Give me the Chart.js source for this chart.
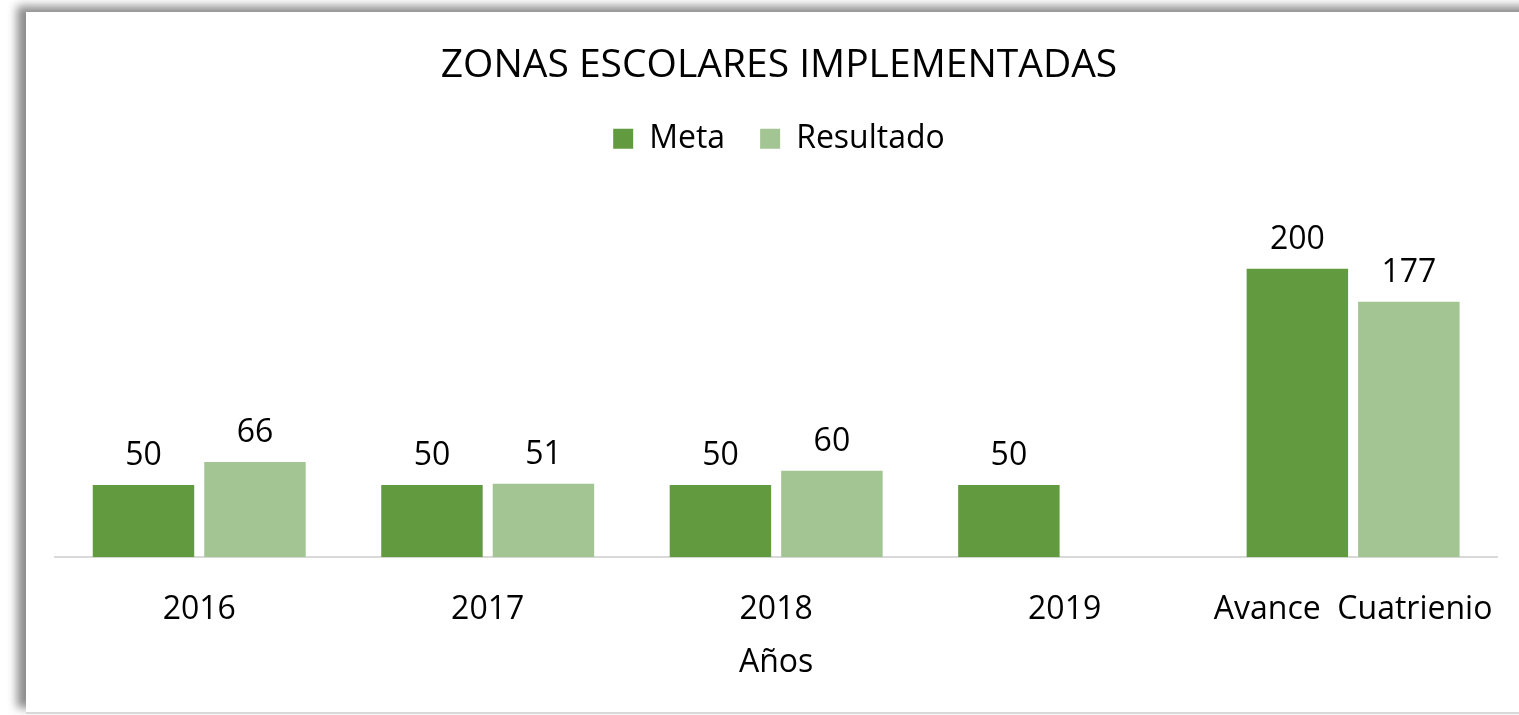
<!DOCTYPE html>
<html>
<head>
<meta charset="utf-8">
<script src="https://cdn.jsdelivr.net/npm/chart.js@4"></script>
<style>
  body { margin: 0; background: #fff; overflow: hidden; }
  .marco { position: absolute; left: 26px; top: 12px; width: 1520px; height: 700px; background: #fff;
           box-shadow: -9px -6px 9px rgba(0,0,0,0.45); border-bottom: 2px solid #d9d9d9; }
  #grafico { position: absolute; left: 0; top: 0; }
</style>
</head>
<body>
<div class="marco"></div>
<canvas id="grafico" width="1519" height="715"></canvas>
<script>
var categorias = ['2016', '2017', '2018', '2019', 'Avance  Cuatrienio'];
var meta = [50, 50, 50, 50, 200];
var resultado = [66, 51, 60, null, 177];

var fuente = "'Open Sans', 'Noto Sans', sans-serif";

// etiquetas de valor encima de cada barra
var etiquetas = {
    id: 'etiquetas',
    afterDatasetsDraw: function(chart) {
        var ctx = chart.ctx;
        ctx.save();
        ctx.font = '32px ' + fuente;
        ctx.fillStyle = '#000';
        ctx.textAlign = 'center';
        ctx.textBaseline = 'alphabetic';
        chart.data.datasets.forEach(function(ds, i) {
            chart.getDatasetMeta(i).data.forEach(function(barra, j) {
                if (ds.data[j] == null) return;
                ctx.fillText(ds.data[j], barra.x, barra.y - 20);
            });
        });
        ctx.restore();
    }
};

var ctx = document.getElementById('grafico').getContext('2d');
var miGrafico = new Chart(ctx, {
    type: 'bar',
    data: {
        labels: categorias,
        datasets: [{
            label: 'Meta',
            data: meta,
            backgroundColor: '#629b3f',
            categoryPercentage: 0.773,
            barPercentage: 0.91
        }, {
            label: 'Resultado',
            data: resultado,
            backgroundColor: '#a3c593',
            categoryPercentage: 0.773,
            barPercentage: 0.91
        }]
    },
    options: {
        responsive: false,
        animation: false,
        layout: { padding: { left: 55, right: 16, top: 42, bottom: 33 } },
        plugins: {
            title: {
                display: true,
                text: 'ZONAS ESCOLARES IMPLEMENTADAS',
                color: '#000',
                font: { family: fuente, size: 39, weight: 'normal' },
                padding: { top: 0, bottom: -1 }
            },
            legend: {
                labels: {
                    color: '#000',
                    font: { family: fuente, size: 32 },
                    boxWidth: 20,
                    boxHeight: 20,
                    padding: 35
                }
            },
            tooltip: { enabled: false }
        },
        scales: {
            x: {
                grid: { display: false },
                border: { display: true, color: '#d9d9d9', width: 2 },
                ticks: { color: '#000', font: { family: fuente, size: 32 }, padding: 25 },
                title: { display: true, text: 'Años', color: '#000', font: { family: fuente, size: 32 }, padding: { top: -10, bottom: 0 } }
            },
            y: {
                display: false,
                min: 0,
                max: 272
            }
        }
    },
    plugins: [etiquetas]
});
</script>
</body>
</html>
